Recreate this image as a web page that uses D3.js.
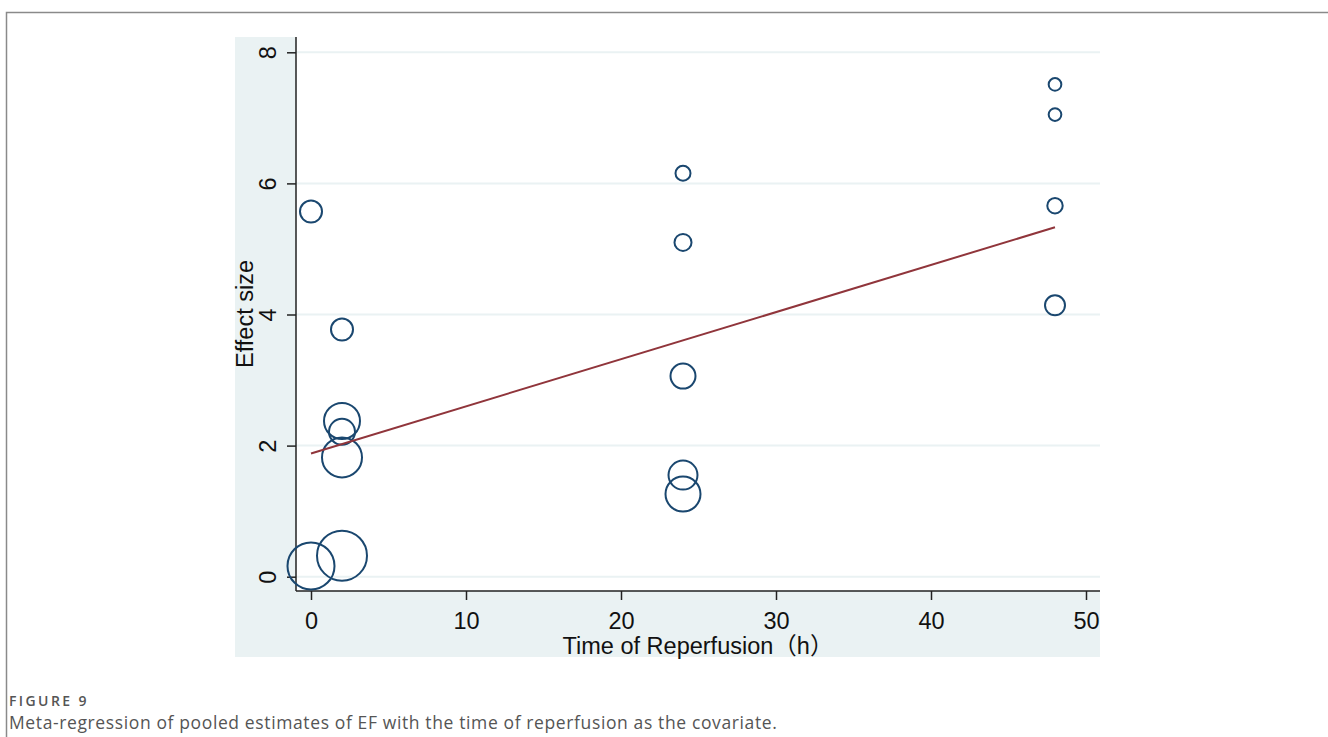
<!DOCTYPE html>
<html>
<head>
<meta charset="utf-8">
<script src="https://cdn.jsdelivr.net/npm/d3@7"></script>
<style>
  body { margin: 0; background: #fff; }
  .tick text { font-family: "Liberation Sans", Arial, sans-serif; }
</style>
</head>
<body>
<div id="chart"></div>
<script>
// study-level data
const reperfusionHours = [0, 0, 2, 2, 2, 2, 2, 24, 24, 24, 24, 24, 48, 48, 48, 48];
const effectSizes = [5.57, 0.165, 3.77, 2.375, 2.21, 1.82, 0.32, 6.155, 5.10, 3.06, 1.55, 1.26, 7.51, 7.05, 5.66, 4.14];
const studyWeights = [19.4, 88.4, 19.4, 51.8, 27, 64, 100, 9, 11.6, 25, 33.6, 49, 6.4, 6.4, 9.5, 16];
const fitIntercept = 1.88;
const fitSlope = 0.0719;
const fitRange = [0, 48];
const xTicks = [0, 10, 20, 30, 40, 50];
const yTicks = [0, 2, 4, 6, 8];

const w = 1328, h = 737;
const graph = { left: 235, right: 1100, top: 37, bottom: 657 };
const plot = { left: 296, right: 1100, top: 37, bottom: 591 };
const fontSize = 23.5;

const svg = d3.select('#chart').append('svg')
  .attr('width', w)
  .attr('height', h);

// page frame
svg.append('path')
  .attr('d', `M6.5,${h} V12.5 H${w}`)
  .attr('fill', 'none')
  .attr('stroke', '#8a8a8a')
  .attr('stroke-width', 1.5);

// graph region + plot region
svg.append('rect')
  .attr('x', graph.left).attr('y', graph.top)
  .attr('width', graph.right - graph.left).attr('height', graph.bottom - graph.top)
  .attr('fill', '#eaf2f3');
svg.append('rect')
  .attr('x', plot.left).attr('y', plot.top)
  .attr('width', plot.right - plot.left).attr('height', plot.bottom - plot.top)
  .attr('fill', '#fff');

const xScale = d3.scaleLinear().domain([0, 50]).range([311, 1086]);
const yScale = d3.scaleLinear().domain([0, 8]).range([576.7, 52.3]);
const rScale = d3.scaleSqrt().domain([0, d3.max(studyWeights)]).range([0, 25]);

// gridlines
svg.append('g').selectAll('line')
  .data(yTicks)
  .enter()
  .append('line')
  .attr('x1', plot.left).attr('x2', plot.right)
  .attr('y1', (d) => yScale(d)).attr('y2', (d) => yScale(d))
  .attr('stroke', '#eaf2f3')
  .attr('stroke-width', 2);

// axes
const xAxis = d3.axisBottom(xScale).tickValues(xTicks).tickSize(9).tickPadding(12).tickSizeOuter(0);
const yAxis = d3.axisLeft(yScale).tickValues(yTicks).tickSize(9).tickPadding(6).tickSizeOuter(0);

const gx = svg.append('g')
  .attr('transform', `translate(0, ${plot.bottom})`)
  .call(xAxis);
gx.select('.domain').remove();
gx.append('line')
  .attr('x1', plot.left).attr('x2', plot.right)
  .attr('stroke', '#222').attr('stroke-width', 1.5);
gx.selectAll('.tick line').attr('stroke', '#222').attr('stroke-width', 1.5);
gx.selectAll('.tick text')
  .attr('font-size', fontSize)
  .attr('fill', '#111');

const gy = svg.append('g')
  .attr('transform', `translate(${plot.left}, 0)`)
  .call(yAxis);
gy.select('.domain').remove();
gy.append('line')
  .attr('y1', plot.top).attr('y2', plot.bottom)
  .attr('stroke', '#222').attr('stroke-width', 1.5);
gy.selectAll('.tick line').attr('stroke', '#222').attr('stroke-width', 1.5);
gy.selectAll('.tick text')
  .attr('font-size', fontSize)
  .attr('fill', '#111')
  .attr('text-anchor', 'middle')
  .attr('dy', null)
  .attr('x', null)
  .attr('transform', 'translate(-26, 0) rotate(-90)')
  .attr('dominant-baseline', 'middle');

// axis titles
svg.append('text')
  .attr('x', 698)
  .attr('y', 654)
  .attr('text-anchor', 'middle')
  .attr('font-family', '"Liberation Sans", Arial, "Noto Sans CJK SC", sans-serif')
  .attr('font-size', fontSize)
  .attr('fill', '#111')
  .text('Time of Reperfusion（h）');

svg.append('text')
  .attr('transform', `translate(253, ${(plot.top + plot.bottom) / 2}) rotate(-90)`)
  .attr('text-anchor', 'middle')
  .attr('font-family', '"Liberation Sans", Arial, sans-serif')
  .attr('font-size', fontSize)
  .attr('fill', '#111')
  .text('Effect size');

// bubbles
const points = reperfusionHours.map((x, i) => ({ x: x, y: effectSizes[i], w: studyWeights[i] }));
svg.append('g').selectAll('circle')
  .data(points)
  .enter()
  .append('circle')
  .attr('cx', (d) => xScale(d.x))
  .attr('cy', (d) => yScale(d.y))
  .attr('r', (d) => rScale(d.w))
  .attr('fill', 'none')
  .attr('stroke', '#1a476f')
  .attr('stroke-width', 2);

// fitted line
svg.append('line')
  .attr('x1', xScale(fitRange[0]))
  .attr('y1', yScale(fitIntercept + fitSlope * fitRange[0]))
  .attr('x2', xScale(fitRange[1]))
  .attr('y2', yScale(fitIntercept + fitSlope * fitRange[1]))
  .attr('stroke', '#90353b')
  .attr('stroke-width', 2);

// caption
svg.append('text')
  .attr('x', 9).attr('y', 706)
  .attr('font-family', '"Open Sans", sans-serif')
  .attr('font-size', 14)
  .attr('font-weight', 600)
  .attr('letter-spacing', 2.4)
  .attr('fill', '#555')
  .text('FIGURE 9');
svg.append('text')
  .attr('x', 9).attr('y', 729)
  .attr('font-family', '"Open Sans", sans-serif')
  .attr('font-size', 17.5)
  .attr('letter-spacing', 0.62)
  .attr('fill', '#555')
  .text('Meta-regression of pooled estimates of EF with the time of reperfusion as the covariate.');
</script>
</body>
</html>
